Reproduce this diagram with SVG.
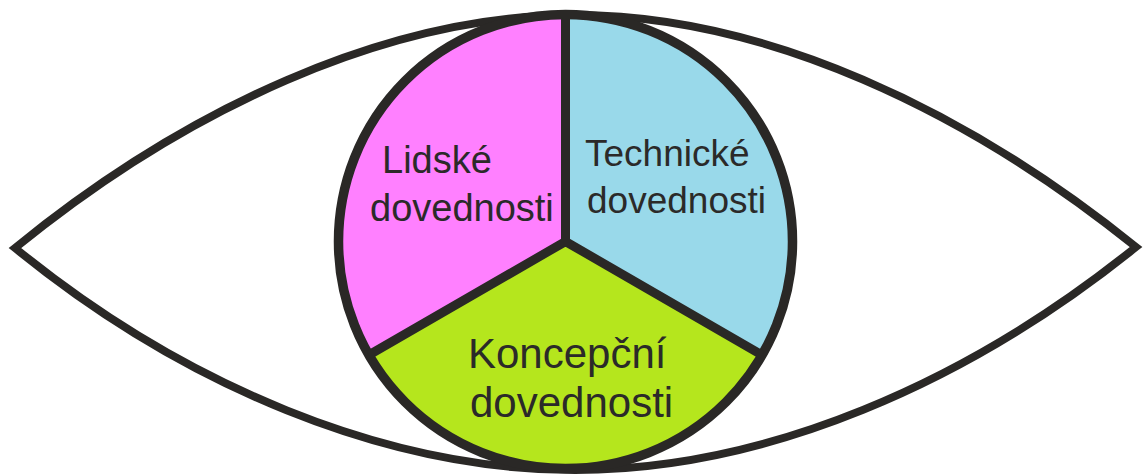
<svg xmlns="http://www.w3.org/2000/svg" width="1144" height="475" viewBox="0 0 1144 475">
<style>
.ln{fill:none;stroke:#2a2826;stroke-linejoin:miter;stroke-miterlimit:10}
.lbl{font-family:"Liberation Sans",Arial,sans-serif;fill:#2b2a29}
</style>
<rect width="1144" height="475" fill="#ffffff"/>
<g id="eye">
<path class="ln" stroke-width="8" fill="#ffffff" d="M15,248 C183,111 385,15 575,15 C765,15 966,110 1136,247 C966,384 765,470 575,470 C385,470 183,385 15,248 Z"/>
</g>
<g id="lidske">
<path d="M565.5,241.5 L565.5,14.5 A227,227 0 0 0 368.9,355 Z" fill="#ff80ff"/>
<text class="lbl" font-size="38"><tspan x="382" y="173">Lidské</tspan><tspan x="370" y="221">dovednosti</tspan></text>
</g>
<g id="technicke">
<path d="M565.5,241.5 L565.5,14.5 A227,227 0 0 1 762.1,355 Z" fill="#99d9ea"/>
<text class="lbl" font-size="37"><tspan x="585" y="166">Technické</tspan><tspan x="587" y="213">dovednosti</tspan></text>
</g>
<g id="koncepcni">
<path d="M565.5,241.5 L368.9,355 A227,227 0 0 0 762.1,355 Z" fill="#b5e61d"/>
<text class="lbl" font-size="42"><tspan x="468" y="368">Koncepční</tspan><tspan x="470" y="417">dovednosti</tspan></text>
</g>
<g id="connectors">
<circle class="ln" cx="565.5" cy="241.5" r="227" stroke-width="9.5"/>
<path class="ln" stroke-width="9" d="M565.5,14.5 L565.5,241.5 M368.9,355 L565.5,241.5 L762.1,355"/>
</g>
</svg>
